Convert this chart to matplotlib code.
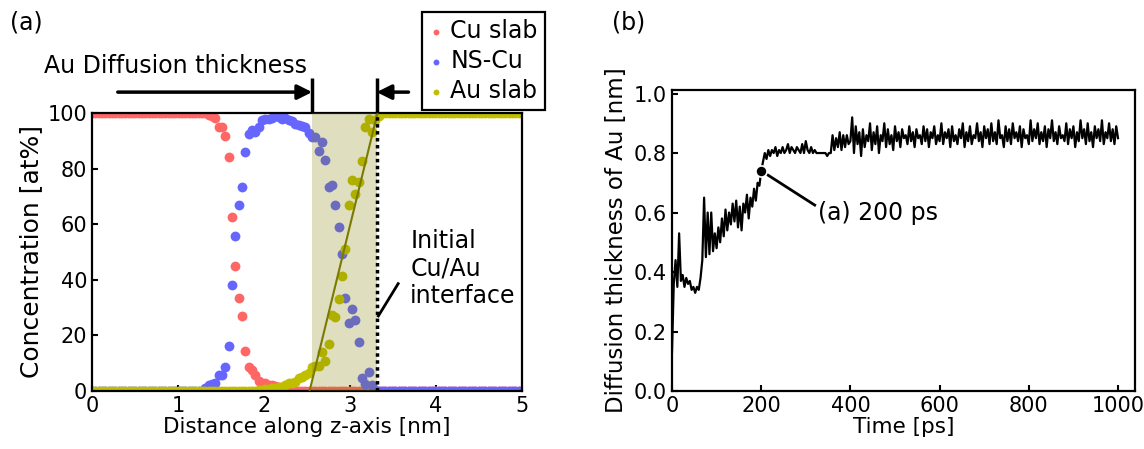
import numpy as np
import matplotlib
matplotlib.use("Agg")
import matplotlib.pyplot as plt

plt.rcParams['font.family'] = ['DejaVu Sans']

# ---------------- data: panel (a) ----------------
z_nm = np.linspace(0, 5, 130)

cu_slab = ([100.0] * 35 +
           [99.3, 98.8, 98.1, 95.0, 94.8, 91.8, 84.2, 62.5, 44.9, 33.6,
            27.0, 14.5, 8.5, 7.6, 5.8, 3.5, 3.0, 2.9, 2.2, 2.0,
            1.8, 1.5, 1.0, 0.8, 0.5] +
           [0.0] * 70)

ns_cu = ([0.0] * 34 +
         [1.0, 2.0, 2.5, 2.9, 5.6, 5.8, 8.8, 16.3, 38.0, 55.6,
          66.8, 73.5, 85.8, 92.5, 93.7, 93.2, 95.1, 97.3, 97.7, 97.7,
          98.3, 99.0, 98.5, 98.0, 98.3, 97.5, 97.0, 96.2, 95.8, 95.2,
          95.0, 92.7, 91.4, 91.5, 86.5, 89.7, 83.2, 73.5, 74.0, 67.0,
          59.0, 49.2, 33.5, 24.6, 29.6, 25.5, 17.5, 4.6, 2.5, 6.8,
          2.0, 0.5] +
         [0.0] * 44)

au_slab = ([0.0] * 50 +
           [0.3, 0.5, 0.6, 0.8, 1.0, 1.2, 1.5, 1.5, 2.0, 2.9,
            3.0, 3.2, 4.6, 5.0, 5.6, 6.5, 8.5, 9.0, 9.0, 13.9,
            10.8, 17.0, 27.3, 26.5, 33.2, 41.5, 51.0, 66.8, 75.8, 70.7,
            75.1, 82.9, 95.1, 97.7, 93.0, 97.3, 99.0] +
           [100.0] * 43)

diff_start = 2.56      # start of Au diffusion region [nm]
interface = 3.31       # initial Cu/Au interface [nm]
fit_x = [2.53, 3.32]
fit_y = [0.0, 100.0]

# ---------------- data: panel (b) ----------------
time_ps = np.arange(0, 1001, 4)
thickness = [
    0.13, 0.36, 0.44, 0.35, 0.53, 0.37, 0.39, 0.35, 0.38, 0.36,
    0.37, 0.34, 0.35, 0.33, 0.35, 0.34, 0.38, 0.44, 0.65, 0.45,
    0.60, 0.46, 0.60, 0.47, 0.53, 0.48, 0.55, 0.50, 0.58, 0.52,
    0.61, 0.54, 0.60, 0.56, 0.63, 0.57, 0.64, 0.55, 0.62, 0.54,
    0.63, 0.60, 0.66, 0.58, 0.65, 0.62, 0.68, 0.64, 0.70, 0.69,
    0.74, 0.77, 0.80, 0.78, 0.81, 0.79, 0.81, 0.80, 0.82, 0.79,
    0.81, 0.80, 0.82, 0.80, 0.81, 0.83, 0.80, 0.82, 0.81, 0.80,
    0.82, 0.81, 0.80, 0.83, 0.80, 0.84, 0.81, 0.80, 0.82, 0.80,
    0.81, 0.80, 0.80, 0.80, 0.80, 0.80, 0.80, 0.79, 0.80, 0.80,
    0.86, 0.81, 0.85, 0.82, 0.87, 0.81, 0.86, 0.82, 0.86, 0.83,
    0.84, 0.92, 0.80, 0.89, 0.83, 0.87, 0.79, 0.88, 0.82, 0.86,
    0.84, 0.90, 0.81, 0.87, 0.83, 0.89, 0.80, 0.86, 0.84, 0.90,
    0.82, 0.88, 0.83, 0.86, 0.81, 0.89, 0.84, 0.87, 0.82, 0.88,
    0.85, 0.86, 0.83, 0.89, 0.84, 0.87, 0.82, 0.88, 0.85, 0.86,
    0.83, 0.89, 0.84, 0.88, 0.82, 0.87, 0.85, 0.89, 0.83, 0.86,
    0.84, 0.90, 0.83, 0.87, 0.85, 0.88, 0.82, 0.89, 0.84, 0.86,
    0.83, 0.88, 0.85, 0.90, 0.82, 0.87, 0.84, 0.89, 0.83, 0.86,
    0.85, 0.90, 0.84, 0.87, 0.82, 0.89, 0.85, 0.88, 0.83, 0.90,
    0.84, 0.87, 0.83, 0.91, 0.85, 0.86, 0.82, 0.89, 0.84, 0.88,
    0.83, 0.90, 0.85, 0.87, 0.84, 0.89, 0.82, 0.88, 0.85, 0.86,
    0.83, 0.91, 0.84, 0.88, 0.85, 0.90, 0.83, 0.87, 0.84, 0.89,
    0.82, 0.88, 0.85, 0.91, 0.84, 0.87, 0.83, 0.89, 0.85, 0.86,
    0.84, 0.90, 0.83, 0.88, 0.85, 0.89, 0.82, 0.87, 0.84, 0.91,
    0.85, 0.88, 0.83, 0.90, 0.84, 0.87, 0.82, 0.89, 0.85, 0.88,
    0.84, 0.91, 0.83, 0.87, 0.85, 0.90, 0.84, 0.88, 0.83, 0.89,
    0.85,
]
mark_t, mark_v = 200, 0.74

# ---------------- styling ----------------
RED = '#ff6666'
BLUE = '#6666ff'
OLIVE = '#bfbf00'
FS_TICK = 15
FS_XLAB = 15.5
FS_ANN = 17

fig = plt.figure(figsize=(11.44, 4.49), dpi=100)
axA = fig.add_axes([0.0804, 0.1292, 0.3759, 0.6192])
axB = fig.add_axes([0.5874, 0.1292, 0.4047, 0.6704])

for ax in (axA, axB):
    for s in ax.spines.values():
        s.set_linewidth(1.6)
    ax.tick_params(direction='in', length=4, width=1.5, labelsize=FS_TICK,
                   top=False, right=False)

# ---- panel (a) ----
axA.scatter(z_nm, cu_slab, s=50, color=RED, lw=0, zorder=2, label='Cu slab')
axA.scatter(z_nm, ns_cu, s=50, color=BLUE, lw=0, zorder=2, label='NS-Cu')
axA.scatter(z_nm, au_slab, s=50, color=OLIVE, lw=0, zorder=2, label='Au slab')
axA.axvspan(diff_start, interface, color='#808000', alpha=0.25, lw=0, zorder=3)
axA.plot(fit_x, fit_y, color='#7a7a00', lw=1.5, zorder=4)
axA.plot([interface, interface], [0, 100], color='k', lw=2.5,
         linestyle=(0, (1, 1)), zorder=5)
axA.set_xlim(0, 5)
axA.set_ylim(0, 100)
axA.set_xticks([0, 1, 2, 3, 4, 5])
axA.set_yticks([0, 20, 40, 60, 80, 100])
axA.set_xlabel('Distance along z-axis [nm]', fontsize=FS_XLAB, labelpad=1)
axA.set_ylabel('Concentration [at%]', fontsize=18, labelpad=3)

# diffusion thickness arrows above the axes
arr_y = 107.5
axA.annotate('', xy=(diff_start, arr_y), xytext=(0.3, arr_y),
             arrowprops=dict(arrowstyle='-|>', mutation_scale=22, lw=2.5,
                             color='k', shrinkA=0, shrinkB=0),
             annotation_clip=False)
axA.annotate('', xy=(interface, arr_y), xytext=(3.68, arr_y),
             arrowprops=dict(arrowstyle='-|>', mutation_scale=22, lw=2.5,
                             color='k', shrinkA=0, shrinkB=0),
             annotation_clip=False)
for xv in (diff_start, interface):
    axA.plot([xv, xv], [100.5, 112.5], color='k', lw=2.5, clip_on=False,
             solid_capstyle='butt')
axA.text(-0.56, 117, 'Au Diffusion thickness', fontsize=FS_ANN,
         ha='left', va='center', clip_on=False)

axA.plot([3.33, 3.56], [27, 38.6], color='k', lw=2, zorder=6)
axA.text(3.70, 44, 'Initial\nCu/Au\ninterface', fontsize=FS_ANN,
         ha='left', va='center', linespacing=1.2)

leg = fig.legend(loc='upper left', bbox_to_anchor=(0.3689, 0.9733),
                 borderaxespad=0, fontsize=FS_ANN, markerscale=0.6,
                 handletextpad=0.3, handlelength=0.6, labelspacing=0.25,
                 borderpad=0.3, fancybox=False, framealpha=1,
                 edgecolor='k')
leg.get_frame().set_linewidth(1.6)

fig.text(0.009, 0.95, '(a)', fontsize=FS_ANN, ha='left', va='center')
fig.text(0.535, 0.95, '(b)', fontsize=FS_ANN, ha='left', va='center')

# ---- panel (b) ----
axB.plot(time_ps, thickness, color='k', lw=1.6)
axB.plot([mark_t], [mark_v], 'o', color='k', ms=8, mec='white', mew=1.2,
         zorder=5)
axB.plot([215, 320], [0.726, 0.625], color='k', lw=2)
axB.text(327, 0.60, '(a) 200 ps', fontsize=FS_ANN, ha='left', va='center')
axB.set_xlim(0, 1038)
axB.set_ylim(0, 1.012)
axB.set_xticks([0, 200, 400, 600, 800, 1000])
axB.set_yticks([0.0, 0.2, 0.4, 0.6, 0.8, 1.0])
axB.set_yticklabels(['0.0', '0.2', '0.4', '0.6', '0.8', '1.0'])
axB.set_xlabel('Time [ps]', fontsize=FS_XLAB, labelpad=1)
axB.set_ylabel('Diffusion thickness of Au [nm]', fontsize=16.5, labelpad=4)

fig.savefig('out.png', dpi=100)
